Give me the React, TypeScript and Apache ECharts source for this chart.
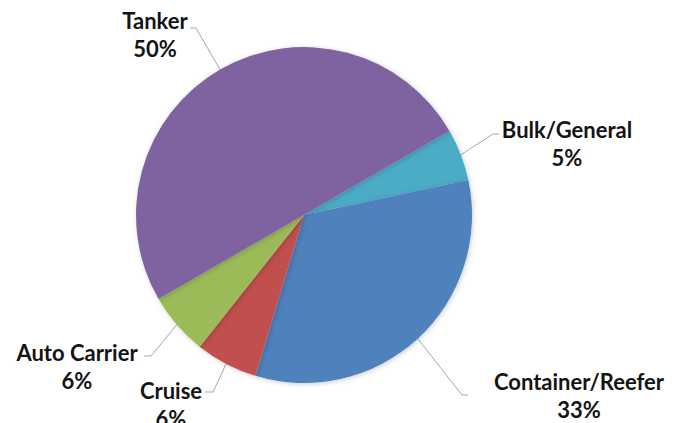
import React, { useEffect, useRef } from "react";
import * as echarts from "echarts";

const categories = ["Bulk/General", "Container/Reefer", "Cruise", "Auto Carrier", "Tanker"];
const values = [5, 33, 6, 6, 50];
const colors = ["#4BACC6", "#4F81BD", "#C0504D", "#9BBB59", "#7F63A1"];

// label anchor (center of the two-line label) and leader-line elbow points
const labelPos: Record<string, { x: number; y: number; line: number[][] }> = {
  "Bulk/General": { x: 567, y: 143, line: [[493, 134], [499, 134]] },
  "Container/Reefer": { x: 579, y: 395, line: [[462, 395], [468, 395]] },
  "Cruise": { x: 171, y: 404, line: [[213, 392], [205, 392]] },
  "Auto Carrier": { x: 77, y: 366, line: [[151, 356], [144, 356]] },
  "Tanker": { x: 155, y: 34, line: [[196, 28], [190, 28]] },
};

export default function App() {
  const ref = useRef<HTMLDivElement>(null);
  useEffect(() => {
    if (!ref.current) return;
    const chart = echarts.init(ref.current, undefined, { renderer: "svg" });
    chart.setOption({
      animation: false,
      backgroundColor: "#ffffff",
      series: [
        {
          type: "pie",
          center: [304, 215],
          radius: 168,
          startAngle: 30,
          clockwise: true,
          percentPrecision: 0,
          data: categories.map((c, i) => ({
            name: c,
            value: values[i],
            itemStyle: { color: colors[i] },
          })),
          itemStyle: {
            shadowBlur: 5,
            shadowColor: "rgba(0,0,0,0.2)",
            shadowOffsetX: 1,
            shadowOffsetY: 1,
          },
          label: {
            show: true,
            position: "outside",
            formatter: "{b}\n{d}%",
            fontFamily: "Lato",
            fontWeight: "bold",
            fontSize: 22,
            lineHeight: 28,
            color: "#141414",
            align: "center",
            overflow: "none",
            edgeDistance: 0,
          },
          labelLine: {
            show: true,
            lineStyle: { color: "#a6a6a6", width: 1 },
          },
          labelLayout: (params: any) => {
            const name = categories[params.dataIndex];
            const p = labelPos[name];
            const start = params.labelLinePoints ? params.labelLinePoints[0] : p.line[0];
            return {
              x: p.x,
              y: p.y,
              width: 220,
              align: "center",
              verticalAlign: "middle",
              labelLinePoints: [start, p.line[0], p.line[1]],
            };
          },
          emphasis: { disabled: true },
        },
      ],
    });
    return () => chart.dispose();
  }, []);
  return (
    <div
      ref={ref}
      style={{ position: "fixed", left: 0, top: 0, width: 686, height: 423 }}
    />
  );
}
